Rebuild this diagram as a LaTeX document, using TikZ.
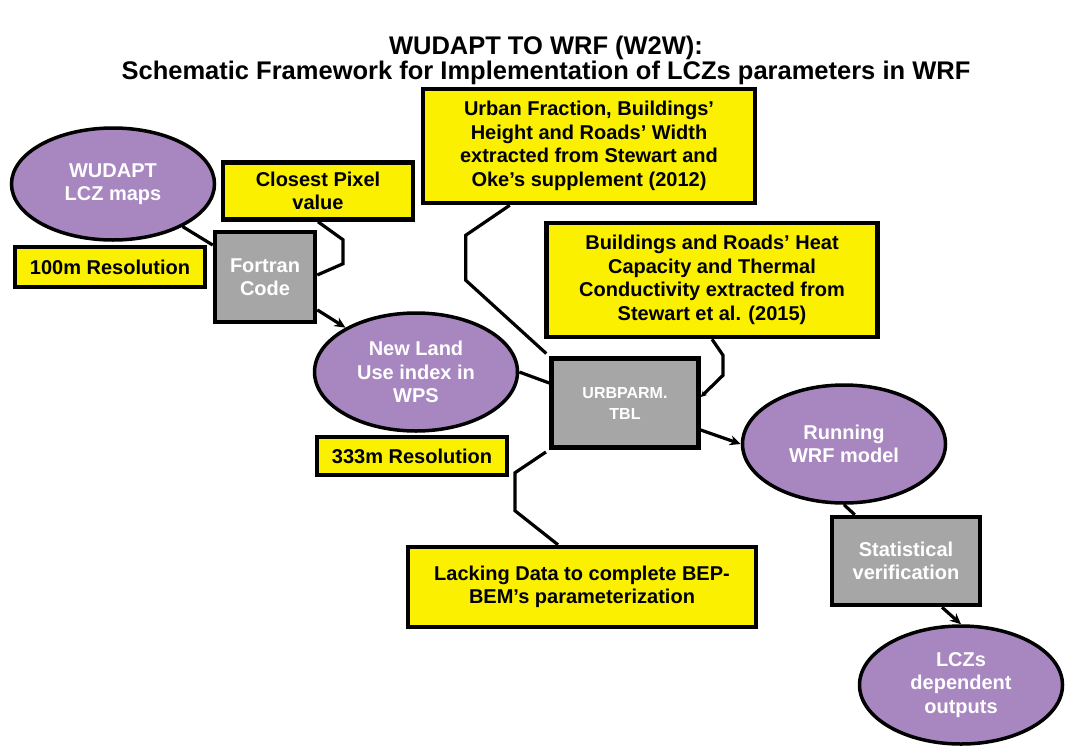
\documentclass[tikz,border=0pt]{standalone}
\usepackage{fontspec}
\setmainfont{Liberation Sans}
\usetikzlibrary{arrows.meta, shapes.geometric, positioning}
\definecolor{lczpurple}{HTML}{A886C0}
\definecolor{noteyellow}{HTML}{FAF000}
\definecolor{toolgray}{HTML}{A6A6A6}

\begin{document}
\begin{tikzpicture}[x=1pt,y=-1pt,line width=3.2pt,
        font=\bfseries\fontsize{20}{23.5}\selectfont,
        lcz/.style={ellipse,draw,line width=3.5pt,fill=lczpurple,text=white,align=center,
            minimum width=203pt,minimum height=118pt,inner sep=0pt},
        tool/.style={rectangle,draw,line width=4.5pt,fill=toolgray,text=white,align=center,inner sep=0pt},
        note/.style={rectangle,draw,line width=4.5pt,fill=noteyellow,text=black,align=center,inner sep=0pt},
        link/.style={-{Stealth[length=11pt,width=10pt]}}]

        \useasboundingbox (0,0) rectangle (1065,745);

        \node[font=\bfseries\fontsize{25.5}{25}\selectfont, align=center] (title) at (546,60)
            {WUDAPT TO WRF (W2W):\\Schematic Framework for Implementation of LCZs parameters in WRF};

        \node[lcz, minimum height=112pt]                     (map)   at (113,184) {WUDAPT\\LCZ maps};
        \node[note, minimum width=190pt, minimum height=57pt] (pix)   at (318,191) {Closest Pixel\\value};
        \node[note, minimum width=190pt, minimum height=40pt] (res_1) at (110,267) {100m Resolution};
        \node[tool, minimum width=100pt, minimum height=90pt] (fort)  at (265,277) {Fortran\\Code};
        \node[lcz]                                           (wps)   at (416,372) {New Land\\Use index in\\WPS};
        \node[note, minimum width=190pt, minimum height=38pt] (res_2) at (412,456) {333m Resolution};
        \node[tool, minimum width=147pt, minimum height=89pt,
              font=\bfseries\fontsize{16}{21}\selectfont]    (urb)   at (625,403) {URBPARM.\\TBL};
        \node[note, minimum width=332pt, minimum height=114pt] (frac) at (589,146)
            {Urban Fraction, Buildings’\\Height and Roads’ Width\\extracted from Stewart and\\Oke’s supplement (2012)};
        \node[note, minimum width=331pt, minimum height=114pt] (heat) at (712,280)
            {Buildings and Roads’ Heat\\Capacity and Thermal\\Conductivity extracted from\\Stewart et al. (2015)};
        \node[note, minimum width=348pt, minimum height=80pt] (lack)  at (582,587)
            {Lacking Data to complete BEP-\\BEM’s parameterization};
        \node[lcz]                                           (wrf)   at (844,444) {Running\\WRF model};
        \node[tool, minimum width=148pt, minimum height=88pt] (stat)  at (906,561) {Statistical\\verification};
        \node[lcz]                                           (out)   at (961,685) {LCZs\\dependent\\outputs};

        \draw (map) -- (fort);
        \draw[link] (fort) -- (wps);
        \draw (pix.south) -- ++(25,18) -- ++(0,24) -- ([yshift=2pt]fort.east);
        \draw (wps.east) -- ([yshift=20pt]urb.west);
        \draw[shorten >=4pt] ([xshift=89pt]frac.south west) -- ++(-44,30) -- ++(0,45) -- (urb.north west);
        \draw[-{Stealth[length=6pt,width=6pt]}] (heat.south) -- ++(11,16) -- ++(0,20) -- ([yshift=6pt]urb.east);
        \draw[shorten >=4pt] ([xshift=-24pt]lack.north) -- ++(-43,-34) -- ++(0,-38) -- (urb.south west);
        \draw[link] ([yshift=-27pt]urb.east) -- (wrf.west);
        \draw (wrf.south) -- ([xshift=25pt]stat.north west);
        \draw[link] ([xshift=36pt]stat.south) -- (out.north);
    \end{tikzpicture}
\end{document}
